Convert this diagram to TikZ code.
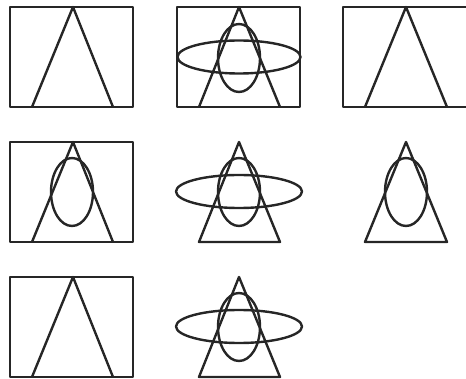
\documentclass[tikz,border=0pt]{standalone}
\begin{document}
\begin{tikzpicture}[x=1pt,y=-1pt,
  shp/.style={draw=black!85,line width=2.4pt,line join=round}]
\useasboundingbox (0,0) rectangle (466,379);
\clip (0,0) rectangle (466,379);
% Row 1
\draw[shp] (10,7) rectangle (133,107);
\draw[shp] (32,107) -- (73,7) -- (113,107);
\draw[shp] (177,7) rectangle (300,107);
\draw[shp] (199,107) -- (239,7) -- (280,107);
\draw[shp] (239,57) ellipse [x radius=61.5,y radius=16.5];
\draw[shp] (239,58) ellipse [x radius=21,y radius=34];
\draw[shp] (343,7) rectangle (470,107);
\draw[shp] (365,107) -- (406,7) -- (447,107);
% Row 2
\draw[shp] (10,142) rectangle (133,242);
\draw[shp] (32,242) -- (73,142) -- (113,242);
\draw[shp] (72,192) ellipse [x radius=21,y radius=34];
\draw[shp] (199,242) -- (239,142) -- (280,242) -- cycle;
\draw[shp] (239,191.5) ellipse [x radius=63,y radius=16.5];
\draw[shp] (239,192) ellipse [x radius=21,y radius=34];
\draw[shp] (365,242) -- (406,142) -- (447,242) -- cycle;
\draw[shp] (406,192) ellipse [x radius=21,y radius=34];
% Row 3
\draw[shp] (10,277) rectangle (133,377);
\draw[shp] (32,377) -- (73,277) -- (113,377);
\draw[shp] (199,377) -- (239,277) -- (280,377) -- cycle;
\draw[shp] (239,326.5) ellipse [x radius=63,y radius=16.5];
\draw[shp] (239,327) ellipse [x radius=21,y radius=34];
\end{tikzpicture}
\end{document}
